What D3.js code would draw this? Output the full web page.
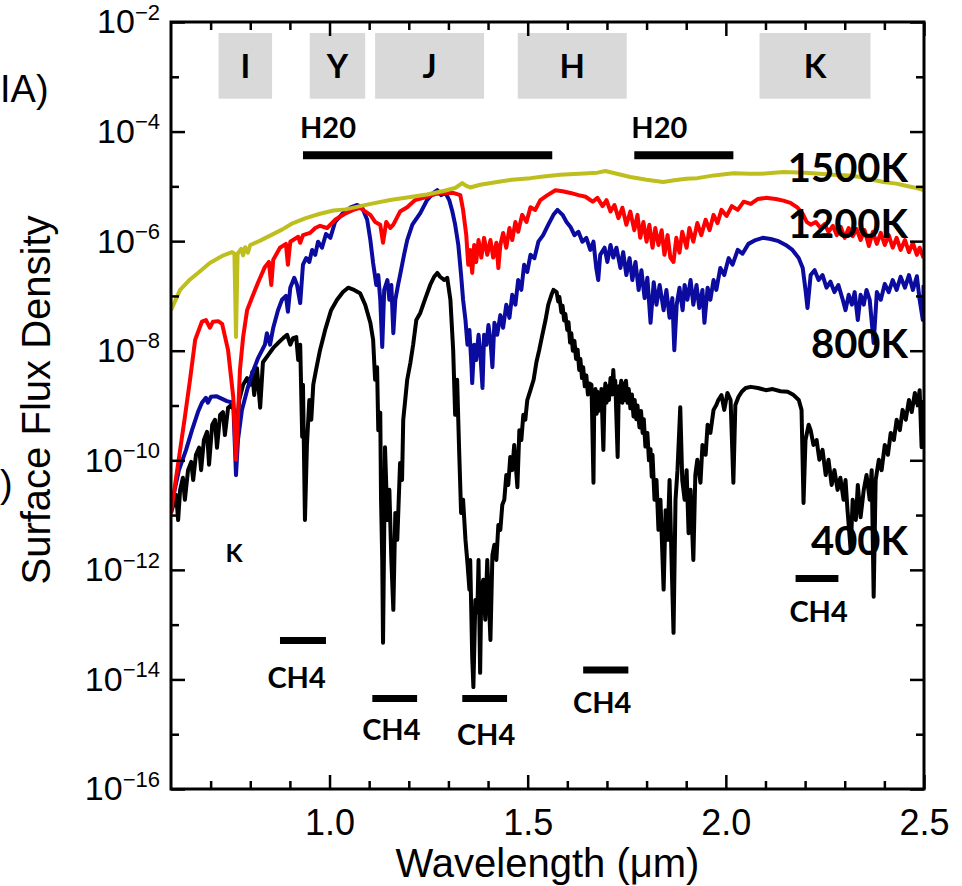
<!DOCTYPE html>
<html>
<head>
<meta charset="utf-8">
<script src="https://d3js.org/d3.v7.min.js"></script>
<style>
body { margin: 0; background: #fff; }
</style>
</head>
<body>
<script>
// spectra: [wavelength (um), log10 surface flux density]
var spec1500 = [[0.600,-7.26],[0.623,-6.89],[0.648,-6.70],[0.668,-6.58],[0.698,-6.40],[0.729,-6.27],[0.754,-6.20],[0.760,-6.23],[0.764,-7.75],[0.768,-6.23],[0.777,-6.14],[0.782,-6.26],[0.787,-6.11],[0.794,-6.21],[0.800,-6.07],[0.825,-5.99],[0.850,-5.90],[0.880,-5.79],[0.908,-5.67],[0.940,-5.58],[0.976,-5.50],[1.010,-5.44],[1.040,-5.42],[1.077,-5.36],[1.110,-5.31],[1.153,-5.25],[1.200,-5.20],[1.246,-5.15],[1.290,-5.08],[1.317,-5.03],[1.335,-4.94],[1.345,-4.99],[1.355,-5.02],[1.380,-4.97],[1.423,-4.92],[1.460,-4.88],[1.507,-4.85],[1.540,-4.82],[1.582,-4.79],[1.630,-4.77],[1.676,-4.75],[1.696,-4.72],[1.730,-4.78],[1.759,-4.83],[1.800,-4.88],[1.842,-4.92],[1.870,-4.89],[1.900,-4.86],[1.928,-4.85],[1.970,-4.80],[2.019,-4.76],[2.060,-4.77],[2.087,-4.77],[2.145,-4.74],[2.200,-4.75],[2.272,-4.79],[2.310,-4.80],[2.340,-4.83],[2.370,-4.88],[2.398,-4.92],[2.430,-4.95],[2.454,-4.99],[2.475,-5.02],[2.499,-5.07]];

var spec1200 = [[0.600,-10.96],[0.635,-9.21],[0.648,-8.53],[0.661,-7.80],[0.678,-7.47],[0.688,-7.44],[0.698,-7.58],[0.706,-7.47],[0.719,-7.46],[0.729,-7.51],[0.744,-7.99],[0.757,-8.84],[0.764,-9.99],[0.769,-9.21],[0.774,-8.35],[0.782,-7.75],[0.792,-7.26],[0.805,-7.02],[0.820,-6.75],[0.837,-6.47],[0.847,-6.38],[0.853,-6.80],[0.858,-6.34],[0.875,-6.12],[0.890,-6.05],[0.895,-6.43],[0.901,-6.01],[0.921,-5.92],[0.926,-6.03],[0.933,-5.89],[0.951,-5.85],[0.964,-5.76],[0.976,-5.72],[0.994,-5.76],[1.014,-5.61],[1.039,-5.50],[1.060,-5.43],[1.077,-5.39],[1.090,-5.46],[1.103,-5.52],[1.115,-5.65],[1.128,-5.70],[1.135,-6.03],[1.143,-5.65],[1.153,-5.76],[1.161,-5.70],[1.178,-5.46],[1.196,-5.38],[1.216,-5.25],[1.246,-5.19],[1.267,-5.14],[1.287,-5.12],[1.312,-5.12],[1.330,-5.16],[1.337,-5.43],[1.345,-5.89],[1.350,-6.43],[1.355,-6.16],[1.360,-6.58],[1.365,-6.07],[1.370,-6.38],[1.376,-5.98],[1.383,-6.30],[1.390,-5.94],[1.398,-6.25],[1.406,-5.98],[1.413,-6.30],[1.421,-6.03],[1.426,-6.49],[1.431,-6.07],[1.438,-5.85],[1.446,-6.12],[1.454,-5.76],[1.461,-5.98],[1.469,-5.65],[1.476,-5.83],[1.486,-5.52],[1.497,-5.65],[1.507,-5.38],[1.519,-5.43],[1.532,-5.25],[1.550,-5.16],[1.570,-5.07],[1.588,-5.09],[1.608,-5.12],[1.628,-5.16],[1.646,-5.19],[1.664,-5.28],[1.676,-5.21],[1.689,-5.36],[1.699,-5.25],[1.709,-5.46],[1.719,-5.34],[1.729,-5.58],[1.739,-5.39],[1.749,-5.70],[1.759,-5.46],[1.769,-5.80],[1.777,-5.52],[1.784,-5.94],[1.792,-5.65],[1.800,-6.01],[1.807,-5.70],[1.815,-6.12],[1.822,-5.76],[1.830,-6.07],[1.838,-5.80],[1.845,-6.25],[1.853,-5.89],[1.860,-6.30],[1.868,-6.38],[1.875,-5.94],[1.883,-6.21],[1.890,-5.83],[1.901,-6.12],[1.908,-5.76],[1.918,-6.01],[1.928,-5.67],[1.938,-5.89],[1.949,-5.61],[1.959,-5.80],[1.969,-5.52],[1.979,-5.67],[1.989,-5.43],[2.002,-5.54],[2.015,-5.36],[2.030,-5.43],[2.045,-5.28],[2.063,-5.32],[2.081,-5.23],[2.101,-5.21],[2.126,-5.23],[2.145,-5.26],[2.163,-5.30],[2.181,-5.39],[2.194,-5.50],[2.204,-5.65],[2.214,-5.70],[2.227,-5.65],[2.239,-5.76],[2.249,-5.69],[2.259,-5.83],[2.270,-5.72],[2.280,-5.89],[2.290,-5.74],[2.300,-5.94],[2.310,-5.76],[2.320,-5.91],[2.330,-5.78],[2.340,-5.98],[2.350,-5.80],[2.361,-6.09],[2.371,-5.83],[2.381,-6.05],[2.391,-5.85],[2.401,-6.07],[2.411,-5.89],[2.421,-6.12],[2.431,-5.94],[2.441,-6.16],[2.452,-5.98],[2.462,-6.20],[2.472,-6.03],[2.482,-6.25],[2.489,-6.12],[2.499,-6.31]];

var spec800 = [[0.600,-10.85],[0.620,-10.18],[0.638,-9.81],[0.653,-9.45],[0.668,-9.12],[0.678,-8.95],[0.688,-8.86],[0.693,-8.95],[0.701,-8.84],[0.714,-8.83],[0.729,-8.88],[0.741,-8.92],[0.757,-8.95],[0.764,-10.27],[0.769,-9.63],[0.779,-9.08],[0.792,-8.72],[0.805,-8.41],[0.820,-8.13],[0.837,-7.89],[0.842,-7.68],[0.850,-7.89],[0.858,-7.58],[0.870,-7.26],[0.880,-7.07],[0.890,-7.00],[0.895,-7.29],[0.901,-6.85],[0.911,-6.67],[0.918,-6.80],[0.926,-7.13],[0.933,-6.43],[0.941,-6.31],[0.949,-6.38],[0.956,-6.16],[0.964,-6.25],[0.971,-6.01],[0.981,-6.12],[0.991,-5.87],[1.002,-5.94],[1.014,-5.65],[1.034,-5.49],[1.052,-5.39],[1.070,-5.34],[1.082,-5.38],[1.095,-5.61],[1.103,-5.98],[1.110,-6.40],[1.118,-6.80],[1.123,-6.62],[1.128,-7.07],[1.133,-7.93],[1.138,-6.89],[1.146,-6.71],[1.151,-7.07],[1.156,-6.80],[1.161,-7.68],[1.166,-7.07],[1.173,-6.80],[1.178,-6.62],[1.188,-6.25],[1.196,-5.98],[1.209,-5.70],[1.229,-5.49],[1.246,-5.25],[1.262,-5.12],[1.272,-5.07],[1.282,-5.16],[1.292,-5.11],[1.302,-5.25],[1.310,-5.46],[1.317,-5.70],[1.325,-6.07],[1.332,-6.62],[1.337,-7.07],[1.343,-7.44],[1.348,-7.89],[1.353,-7.62],[1.358,-8.26],[1.360,-8.59],[1.365,-7.89],[1.370,-8.17],[1.376,-7.71],[1.380,-7.99],[1.386,-8.68],[1.390,-7.71],[1.396,-7.89],[1.401,-7.53],[1.406,-7.80],[1.411,-8.30],[1.416,-7.49],[1.423,-7.71],[1.431,-7.35],[1.438,-7.58],[1.446,-7.16],[1.454,-7.40],[1.461,-6.98],[1.469,-7.16],[1.476,-6.71],[1.484,-6.89],[1.491,-6.43],[1.499,-6.56],[1.507,-6.25],[1.517,-6.31],[1.527,-6.01],[1.539,-5.89],[1.552,-5.70],[1.565,-5.52],[1.575,-5.43],[1.588,-5.52],[1.598,-5.65],[1.608,-5.74],[1.618,-5.89],[1.628,-5.83],[1.638,-6.01],[1.648,-5.94],[1.658,-6.16],[1.666,-6.01],[1.673,-6.49],[1.678,-6.71],[1.683,-6.25],[1.694,-6.12],[1.701,-6.38],[1.709,-6.07],[1.716,-6.30],[1.724,-6.12],[1.734,-6.49],[1.741,-6.20],[1.749,-6.62],[1.757,-6.31],[1.764,-6.71],[1.772,-6.38],[1.780,-6.89],[1.787,-6.53],[1.795,-7.04],[1.802,-6.67],[1.810,-7.49],[1.818,-6.75],[1.825,-7.16],[1.833,-6.80],[1.843,-7.26],[1.850,-6.89],[1.858,-7.40],[1.865,-7.04],[1.870,-7.99],[1.876,-7.16],[1.883,-6.85],[1.891,-7.26],[1.896,-6.80],[1.903,-7.07],[1.911,-6.71],[1.918,-7.16],[1.926,-6.80],[1.933,-7.22],[1.941,-6.89],[1.946,-7.49],[1.954,-6.85],[1.961,-7.07],[1.969,-6.71],[1.976,-6.89],[1.986,-6.49],[1.996,-6.62],[2.007,-6.31],[2.017,-6.43],[2.030,-6.16],[2.042,-6.23],[2.057,-6.05],[2.075,-5.98],[2.093,-5.94],[2.113,-5.96],[2.133,-6.00],[2.151,-6.07],[2.168,-6.16],[2.184,-6.31],[2.194,-6.49],[2.201,-6.89],[2.206,-7.22],[2.214,-6.62],[2.224,-6.53],[2.234,-6.71],[2.244,-6.62],[2.254,-6.85],[2.264,-6.74],[2.274,-6.93],[2.284,-6.80],[2.295,-7.07],[2.302,-7.26],[2.310,-6.98],[2.318,-7.16],[2.325,-6.93],[2.333,-7.44],[2.340,-6.98],[2.348,-7.16],[2.355,-6.89],[2.363,-7.07],[2.373,-7.86],[2.381,-6.93],[2.391,-7.07],[2.401,-6.78],[2.411,-6.93],[2.421,-6.71],[2.431,-6.89],[2.441,-6.65],[2.452,-6.85],[2.462,-6.62],[2.472,-6.89],[2.482,-6.64],[2.489,-7.07],[2.497,-7.44],[2.499,-6.80]];

var spec400 = [[0.600,-10.96],[0.606,-10.81],[0.613,-10.63],[0.618,-11.09],[0.623,-10.54],[0.630,-10.32],[0.635,-10.72],[0.643,-10.18],[0.651,-10.03],[0.656,-10.36],[0.663,-9.90],[0.671,-9.77],[0.676,-10.18],[0.683,-9.63],[0.691,-9.48],[0.696,-10.08],[0.704,-9.35],[0.711,-9.26],[0.716,-9.77],[0.724,-9.17],[0.731,-9.12],[0.736,-9.54],[0.744,-9.04],[0.752,-8.99],[0.759,-9.08],[0.764,-9.63],[0.772,-8.90],[0.782,-8.62],[0.792,-8.50],[0.800,-8.62],[0.805,-8.39],[0.810,-8.81],[0.817,-8.32],[0.825,-9.04],[0.832,-8.21],[0.845,-8.08],[0.858,-7.95],[0.870,-7.86],[0.883,-7.77],[0.893,-7.71],[0.901,-7.89],[0.908,-7.77],[0.916,-7.75],[0.921,-8.17],[0.926,-7.89],[0.931,-9.57],[0.933,-8.62],[0.938,-11.09],[0.943,-9.72],[0.949,-8.90],[0.954,-9.26],[0.959,-8.62],[0.966,-8.35],[0.976,-7.99],[0.989,-7.62],[1.004,-7.26],[1.019,-7.07],[1.034,-6.93],[1.047,-6.85],[1.062,-6.89],[1.077,-6.95],[1.090,-7.16],[1.103,-7.49],[1.110,-7.80],[1.115,-8.53],[1.120,-8.30],[1.123,-9.45],[1.128,-9.13],[1.130,-10.72],[1.133,-11.82],[1.135,-13.33],[1.138,-11.27],[1.140,-9.76],[1.146,-11.09],[1.151,-10.54],[1.156,-11.82],[1.161,-12.73],[1.166,-10.96],[1.171,-11.45],[1.178,-10.05],[1.183,-10.36],[1.186,-9.26],[1.191,-8.90],[1.196,-8.53],[1.204,-8.22],[1.211,-7.89],[1.219,-7.44],[1.229,-7.31],[1.242,-7.04],[1.254,-6.80],[1.264,-6.65],[1.272,-6.58],[1.279,-6.65],[1.290,-6.71],[1.297,-6.67],[1.305,-7.07],[1.312,-7.99],[1.317,-9.17],[1.322,-8.53],[1.327,-9.81],[1.332,-10.96],[1.337,-10.72],[1.343,-11.45],[1.348,-11.87],[1.353,-12.36],[1.355,-11.82],[1.360,-13.59],[1.363,-14.14],[1.368,-12.55],[1.373,-12.78],[1.376,-11.82],[1.380,-13.88],[1.383,-12.36],[1.388,-12.18],[1.393,-12.91],[1.398,-11.82],[1.406,-13.28],[1.411,-11.73],[1.416,-11.54],[1.421,-11.82],[1.426,-11.18],[1.431,-11.27],[1.436,-10.81],[1.441,-10.72],[1.446,-10.27],[1.451,-10.45],[1.456,-9.94],[1.461,-10.18],[1.466,-9.72],[1.474,-10.49],[1.479,-9.45],[1.484,-9.63],[1.489,-9.17],[1.494,-9.26],[1.499,-8.90],[1.507,-8.72],[1.515,-8.53],[1.522,-8.21],[1.529,-7.99],[1.537,-7.71],[1.545,-7.44],[1.552,-7.16],[1.560,-6.98],[1.565,-6.89],[1.573,-6.93],[1.577,-7.10],[1.580,-7.02],[1.585,-7.30],[1.588,-7.18],[1.592,-7.45],[1.595,-7.33],[1.600,-7.62],[1.603,-7.48],[1.607,-7.85],[1.610,-7.68],[1.614,-8.00],[1.618,-7.82],[1.622,-8.15],[1.626,-7.98],[1.630,-8.35],[1.633,-8.15],[1.637,-8.50],[1.640,-8.30],[1.644,-8.65],[1.648,-8.45],[1.652,-8.80],[1.656,-8.60],[1.661,-8.62],[1.666,-10.41],[1.668,-8.95],[1.671,-8.70],[1.674,-9.15],[1.676,-8.75],[1.679,-9.10],[1.681,-8.80],[1.684,-9.05],[1.686,-8.70],[1.691,-9.81],[1.694,-8.80],[1.696,-8.60],[1.699,-8.95],[1.701,-8.65],[1.705,-8.90],[1.709,-8.50],[1.713,-8.80],[1.716,-8.35],[1.719,-8.75],[1.721,-8.55],[1.727,-9.94],[1.730,-8.65],[1.732,-8.85],[1.736,-8.55],[1.739,-8.95],[1.742,-8.60],[1.745,-8.90],[1.748,-8.55],[1.752,-8.95],[1.755,-8.70],[1.759,-9.05],[1.763,-8.80],[1.767,-9.20],[1.770,-8.90],[1.774,-9.25],[1.777,-9.00],[1.782,-9.40],[1.786,-9.10],[1.790,-9.50],[1.793,-9.25],[1.797,-9.75],[1.802,-9.50],[1.806,-10.00],[1.810,-9.80],[1.813,-10.30],[1.815,-9.90],[1.820,-10.72],[1.825,-10.36],[1.830,-11.27],[1.835,-10.72],[1.843,-12.36],[1.848,-10.91],[1.853,-11.45],[1.858,-10.36],[1.863,-11.82],[1.868,-13.15],[1.873,-10.72],[1.878,-10.18],[1.885,-9.03],[1.890,-10.36],[1.896,-10.72],[1.901,-10.18],[1.906,-11.33],[1.911,-10.54],[1.918,-11.82],[1.923,-10.27],[1.928,-9.99],[1.936,-10.41],[1.941,-9.72],[1.949,-9.90],[1.954,-9.35],[1.961,-9.50],[1.969,-9.08],[1.976,-8.99],[1.981,-8.90],[1.989,-8.81],[1.996,-9.08],[2.004,-8.77],[2.012,-8.90],[2.019,-10.41],[2.024,-8.99],[2.032,-8.84],[2.040,-8.75],[2.050,-8.68],[2.063,-8.66],[2.081,-8.68],[2.101,-8.72],[2.118,-8.70],[2.138,-8.74],[2.156,-8.75],[2.171,-8.81],[2.184,-8.90],[2.191,-9.08],[2.196,-10.78],[2.201,-9.63],[2.209,-9.35],[2.214,-9.45],[2.221,-9.72],[2.229,-9.63],[2.236,-9.99],[2.244,-9.81],[2.252,-10.27],[2.259,-9.99],[2.267,-10.45],[2.274,-10.18],[2.282,-10.54],[2.289,-10.32],[2.297,-10.72],[2.302,-10.36],[2.307,-10.91],[2.315,-11.64],[2.320,-10.72],[2.328,-11.09],[2.333,-10.45],[2.340,-11.04],[2.348,-10.54],[2.355,-10.27],[2.363,-10.72],[2.368,-10.18],[2.373,-12.49],[2.378,-10.36],[2.386,-9.99],[2.393,-10.18],[2.401,-9.72],[2.409,-9.90],[2.416,-9.50],[2.424,-9.63],[2.431,-9.26],[2.439,-9.45],[2.446,-9.08],[2.454,-9.26],[2.462,-8.90],[2.469,-9.12],[2.477,-8.77],[2.484,-8.99],[2.489,-8.72],[2.494,-9.76],[2.499,-8.90]];

// temperature labels (right side) and the log10 flux their baselines sit at
var tempNames = ["1500K", "1200K", "800K", "400K"];
var tempLevels = [-4.92, -5.94, -8.13, -11.73];

// photometric bands, wavelength ranges
var bandNames = ["I", "Y", "J", "H", "K"];
var bandLo = [0.72, 0.95, 1.115, 1.475, 2.085];
var bandHi = [0.855, 1.09, 1.39, 1.75, 2.365];

// H2O absorption bands
var h2oLo = [0.933, 1.769];
var h2oHi = [1.562, 2.019];
var h2oLevel = -4.43;
var h2oLabelLevel = -4.12;

// CH4 absorption bands
var ch4Lo = [0.875, 1.108, 1.335, 1.640, 2.176];
var ch4Hi = [0.991, 1.221, 1.448, 1.754, 2.284];
var ch4Level = [-13.29, -14.35, -14.35, -13.83, -12.16];
var ch4LabelAt = [0.917, 1.156, 1.395, 1.688, 2.234];
var ch4LabelLevel = [-14.15, -15.10, -15.19, -14.61, -12.95];

// potassium doublet label
var kLabel = [0.759, -11.85];

// axis ticks
var xMajor = [1.0, 1.5, 2.0, 2.5];
var xMinor = [0.7, 0.8, 0.9, 1.1, 1.2, 1.3, 1.4, 1.6, 1.7, 1.8, 1.9, 2.1, 2.2, 2.3, 2.4];
var yMajorExp = [-2, -4, -6, -8, -10, -12, -14, -16];
var yMinorExp = [-3, -5, -7, -9, -11, -13, -15];

var width = 962,
    height = 886;
var margin = {top: 22, right: 38, bottom: 97, left: 171};

var x = d3.scaleLinear()
    .domain([0.6, 2.5])
    .range([margin.left, width - margin.right]);

var y = d3.scaleLog()
    .domain([1e-16, 1e-2])
    .range([height - margin.bottom, margin.top]);

function fy(v) { return y(Math.pow(10, v)); }

var svg = d3.select("body").append("svg")
    .attr("width", width)
    .attr("height", height)
    .style("font-family", "'Liberation Sans', Arial, sans-serif");

svg.append("clipPath").attr("id", "plot")
  .append("rect")
    .attr("x", margin.left).attr("y", margin.top)
    .attr("width", width - margin.left - margin.right)
    .attr("height", height - margin.top - margin.bottom);

// band boxes
var bandTop = fy(-2.2), bandBot = fy(-3.4);
var bg = svg.append("g");
bg.selectAll("rect")
    .data(bandNames)
    .enter().append("rect")
    .attr("x", function(d, i) { return x(bandLo[i]); })
    .attr("width", function(d, i) { return x(bandHi[i]) - x(bandLo[i]); })
    .attr("y", bandTop)
    .attr("height", bandBot - bandTop)
    .style("fill", "#d9d9d9");
bg.selectAll("text")
    .data(bandNames)
    .enter().append("text")
    .attr("x", function(d, i) { return (x(bandLo[i]) + x(bandHi[i])) / 2; })
    .attr("y", (bandTop + bandBot) / 2 + 12)
    .attr("text-anchor", "middle")
    .style("font-family", "Lato, 'Open Sans', sans-serif")
    .style("font-weight", "bold")
    .style("font-size", "33px")
    .text(function(d) { return d; });

// spectra
var line = d3.line()
    .x(function(d) { return x(d[0]); })
    .y(function(d) { return fy(d[1]); });

var curves = [
  {data: spec400, color: "#000000"},
  {data: spec800, color: "#0b0ba0"},
  {data: spec1200, color: "#ff0000"},
  {data: spec1500, color: "#bebe1e"}
];

svg.append("g")
    .attr("clip-path", "url(#plot)")
  .selectAll("path")
    .data(curves)
    .enter().append("path")
    .attr("d", function(d) { return line(d.data); })
    .style("fill", "none")
    .style("stroke", function(d) { return d.color; })
    .style("stroke-width", 4)
    .style("stroke-linejoin", "round");

// absorption bars + labels
var ann = svg.append("g")
    .style("font-family", "Lato, 'Open Sans', sans-serif")
    .style("font-weight", "bold");

ann.selectAll("line.h2o")
    .data(h2oLo)
    .enter().append("line")
    .attr("class", "h2o")
    .attr("x1", function(d) { return x(d); })
    .attr("x2", function(d, i) { return x(h2oHi[i]); })
    .attr("y1", fy(h2oLevel))
    .attr("y2", fy(h2oLevel))
    .style("stroke", "#000")
    .style("stroke-width", 8);
ann.selectAll("text.h2o")
    .data(h2oLo)
    .enter().append("text")
    .attr("class", "h2o")
    .attr("x", function(d) { return x(d) - 3; })
    .attr("y", fy(h2oLabelLevel))
    .style("font-size", "29px")
    .text("H20");

ann.selectAll("line.ch4")
    .data(ch4Lo)
    .enter().append("line")
    .attr("class", "ch4")
    .attr("x1", function(d) { return x(d); })
    .attr("x2", function(d, i) { return x(ch4Hi[i]); })
    .attr("y1", function(d, i) { return fy(ch4Level[i]); })
    .attr("y2", function(d, i) { return fy(ch4Level[i]); })
    .style("stroke", "#000")
    .style("stroke-width", 7);
ann.selectAll("text.ch4")
    .data(ch4LabelAt)
    .enter().append("text")
    .attr("class", "ch4")
    .attr("x", function(d) { return x(d); })
    .attr("y", function(d, i) { return fy(ch4LabelLevel[i]); })
    .attr("text-anchor", "middle")
    .style("font-size", "29px")
    .text("CH4");

ann.append("text")
    .attr("x", x(kLabel[0]))
    .attr("y", fy(kLabel[1]))
    .attr("text-anchor", "middle")
    .style("font-size", "25px")
    .text("K");

ann.selectAll("text.temp")
    .data(tempNames)
    .enter().append("text")
    .attr("class", "temp")
    .attr("x", x(2.5) - 16)
    .attr("y", function(d, i) { return fy(tempLevels[i]); })
    .attr("text-anchor", "end")
    .style("font-size", "40px")
    .text(function(d) { return d; });

// axes, ticks point inward
function styleAxis(g) {
  g.select(".domain").remove();
  g.selectAll(".tick line").attr("stroke-width", 2.5);
  g.attr("font-family", null).attr("font-size", null);
}

var xb = svg.append("g")
    .attr("transform", "translate(0," + (height - margin.bottom) + ")")
    .call(d3.axisBottom(x).tickValues(xMajor).tickSize(-14).tickPadding(20).tickFormat(d3.format(".1f")))
    .call(styleAxis);
xb.selectAll("text").style("font-size", "36px");
svg.append("g")
    .attr("transform", "translate(0," + (height - margin.bottom) + ")")
    .call(d3.axisBottom(x).tickValues(xMinor).tickSize(-8).tickFormat(""))
    .call(styleAxis);
svg.append("g")
    .attr("transform", "translate(0," + margin.top + ")")
    .call(d3.axisTop(x).tickValues(xMajor).tickSize(-14).tickFormat(""))
    .call(styleAxis);
svg.append("g")
    .attr("transform", "translate(0," + margin.top + ")")
    .call(d3.axisTop(x).tickValues(xMinor).tickSize(-8).tickFormat(""))
    .call(styleAxis);

var yl = svg.append("g")
    .attr("transform", "translate(" + margin.left + ",0)")
    .call(d3.axisLeft(y).tickValues(yMajorExp.map(function(e) { return Math.pow(10, e); }))
      .tickSize(-14).tickPadding(11).tickFormat(""))
    .call(styleAxis);
yl.selectAll(".tick text")
    .style("font-size", "34px")
    .text("10")
  .append("tspan")
    .attr("dy", "-0.62em")
    .style("font-size", "22px")
    .text(function(d) { return "\u2212" + Math.round(-Math.log10(d)); });
svg.append("g")
    .attr("transform", "translate(" + margin.left + ",0)")
    .call(d3.axisLeft(y).tickValues(yMinorExp.map(function(e) { return Math.pow(10, e); })).tickSize(-8).tickFormat(""))
    .call(styleAxis);
svg.append("g")
    .attr("transform", "translate(" + (width - margin.right) + ",0)")
    .call(d3.axisRight(y).tickValues(yMajorExp.map(function(e) { return Math.pow(10, e); })).tickSize(-14).tickFormat(""))
    .call(styleAxis);
svg.append("g")
    .attr("transform", "translate(" + (width - margin.right) + ",0)")
    .call(d3.axisRight(y).tickValues(yMinorExp.map(function(e) { return Math.pow(10, e); })).tickSize(-8).tickFormat(""))
    .call(styleAxis);

// frame
svg.append("rect")
    .attr("x", margin.left)
    .attr("y", margin.top)
    .attr("width", width - margin.left - margin.right)
    .attr("height", height - margin.top - margin.bottom)
    .style("fill", "none")
    .style("stroke", "#000")
    .style("stroke-width", 3);

// axis titles
svg.append("text")
    .attr("x", (margin.left + width - margin.right) / 2)
    .attr("y", 877)
    .attr("text-anchor", "middle")
    .style("font-size", "40px")
    .text("Wavelength (\u03bcm)");

svg.append("text")
    .attr("transform", "translate(50,400) rotate(-90)")
    .attr("text-anchor", "middle")
    .style("font-size", "40px")
    .text("Surface Flux Density");

// remains of a neighbouring label at the left edge
svg.append("text")
    .attr("x", 0).attr("y", 102)
    .style("font-size", "38px")
    .text("IA)");
svg.append("text")
    .attr("x", 0).attr("y", 497)
    .style("font-size", "38px")
    .text(")");
</script>
</body>
</html>
